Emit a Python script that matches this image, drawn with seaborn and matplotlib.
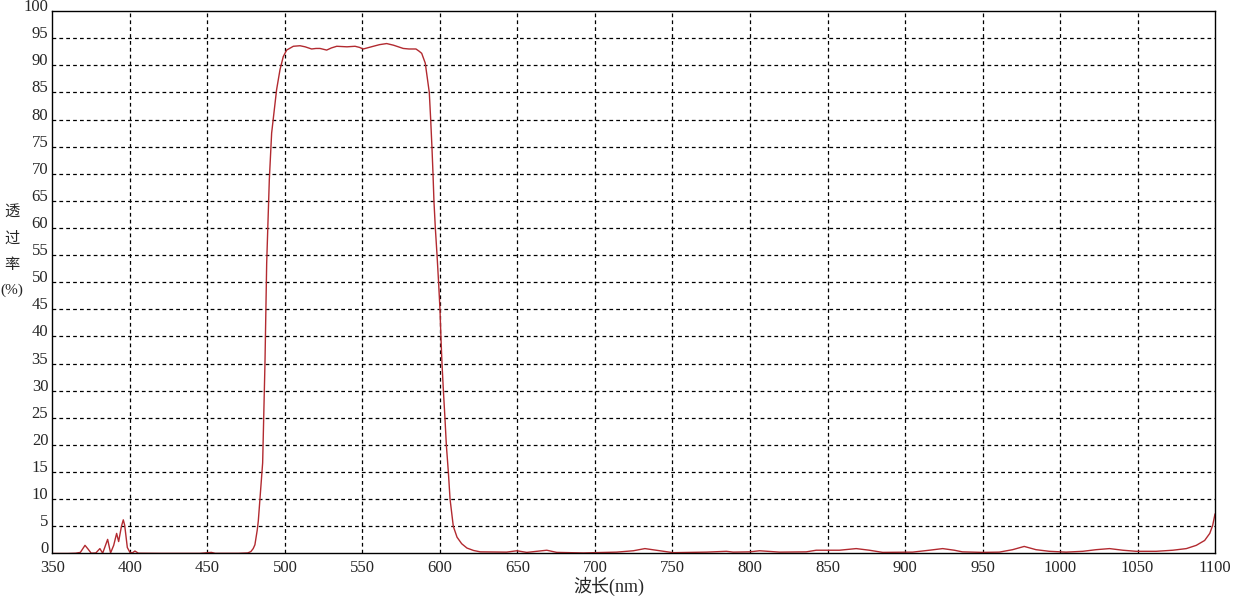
import matplotlib
matplotlib.use("Agg")
import matplotlib.pyplot as plt
import seaborn as sns
import pandas as pd

# wavelength (nm) and transmittance (%)
wavelength = [
    350, 360, 365, 368, 371, 373, 375, 378, 380.6, 382.4, 385.6, 387.5,
    389.5, 391.4, 392.7, 394.5, 395.7, 396.6, 398.3, 400, 401.5, 403.2,
    405.4, 420, 445, 452.5, 455, 470, 476, 478, 479.5, 480.6, 482.1,
    482.8, 484, 485.6, 487.1, 488.2, 489.9, 491.4, 492.5, 494.6, 496.8,
    498.9, 501.1, 505.4, 509.7, 513, 517.2, 520, 522.6, 526.9, 530,
    533.4, 540, 545.2, 548, 550.5, 553, 557, 561, 565.6, 570, 576.3,
    580, 584.5, 586.5, 588.2, 590.5, 593.1, 594, 594.8, 595.5, 596.1,
    597, 598.1, 599.1, 600, 600.6, 601.3, 602.2, 603.2, 604.1, 605.4,
    606.5, 608.6, 611, 614, 617.4, 621.7, 626, 643, 649.6, 656, 668.9,
    675.3, 692.5, 714, 724.7, 732.2, 741.8, 750.4, 771.9, 784.8, 789.1,
    799.8, 806.2, 819.1, 836.3, 842.7, 857.7, 868.5, 877, 885.6, 904.9,
    915.7, 924.3, 931.8, 937, 950, 960.8, 969.4, 976.9, 984.5, 993.1,
    1003.9, 1014.7, 1023.3, 1031.9, 1040.5, 1049.1, 1062, 1072.8, 1081.5,
    1087.9, 1093.3, 1096.6, 1098.5, 1100,
]
transmittance = [
    0, 0, 0.05, 0.2, 1.5, 0.8, 0.05, 0.1, 0.9, 0.05, 2.6, 0.1,
    1.5, 3.7, 2.2, 5.0, 6.2, 5.2, 1.1, 0.2, 0.1, 0.45,
    0.05, 0.02, 0.02, 0.2, 0.03, 0.03, 0.1, 0.35, 0.9, 1.6, 4.3,
    6.0, 10.5, 16.7, 35.1, 53.5, 68.9, 77.5, 80.3, 85.5, 89.2,
    91.6, 92.8, 93.5, 93.6, 93.4, 93.0, 93.1, 93.1, 92.8, 93.2,
    93.5, 93.4, 93.5, 93.3, 93.0, 93.2, 93.5, 93.8, 94.0, 93.7, 93.1,
    93.0, 93.0, 92.6, 92.2, 90.4, 85, 80, 75, 70, 65,
    60, 55, 50, 45, 40, 35, 30, 25, 20, 15,
    10, 5, 3.0, 1.8, 1.0, 0.55, 0.3, 0.25, 0.5, 0.2, 0.6,
    0.2, 0.1, 0.25, 0.5, 0.9, 0.5, 0.15, 0.25, 0.4, 0.25,
    0.3, 0.5, 0.25, 0.3, 0.6, 0.6, 0.9, 0.6, 0.2, 0.25,
    0.6, 0.9, 0.6, 0.3, 0.2, 0.25, 0.7, 1.3, 0.7, 0.4,
    0.25, 0.4, 0.7, 0.9, 0.6, 0.4, 0.4, 0.6, 0.9,
    1.5, 2.4, 3.7, 5.2, 7.3,
]
x_ticks = list(range(350, 1101, 50))
y_ticks = list(range(0, 101, 5))

df = pd.DataFrame({"wl": wavelength, "T": transmittance})

sns.set_style("white")
plt.rcParams["font.family"] = ["Liberation Serif", "Noto Sans CJK SC"]

fig = plt.figure(figsize=(12.43, 6.02), dpi=100)
ax = fig.add_axes([0.0422, 0.0806, 0.9353, 0.9011])

sns.lineplot(data=df, x="wl", y="T", ax=ax, color="#B22A30", linewidth=1.0,
             estimator=None, sort=False)

ax.set_xlim(350, 1100)
ax.set_ylim(0, 100)
ax.set_xticks(x_ticks)
ax.set_yticks(y_ticks)
ax.set_xticklabels([str(t) for t in x_ticks], fontsize=12)
ax.set_yticklabels([str(t) for t in y_ticks], fontsize=12)
# labels sit on their grid line, like the original software draws them
for lab in ax.get_yticklabels():
    lab.set_va("baseline")
ax.tick_params(axis="x", length=0, pad=5)
ax.tick_params(axis="y", length=0, pad=3)
ax.set_xlabel("")
ax.set_ylabel("")

# dashed grid, skipping the border positions
for xv in x_ticks[1:-1]:
    ax.axvline(xv, color="black", linestyle=(0, (3, 2.5)), linewidth=0.9, zorder=0)
for yv in y_ticks[1:-1]:
    ax.axhline(yv, color="black", linestyle=(0, (3, 2.5)), linewidth=0.9, zorder=0)

for sp in ax.spines.values():
    sp.set_visible(True)
    sp.set_color("black")
    sp.set_linewidth(1.0)

fig.text(609 / 1243, 1 - 586 / 602, "波长(nm)", ha="center", va="center", fontsize=13)
fig.text(12 / 1243, 1 - 251 / 602, "透\n过\n率\n(%)", ha="center", va="center",
         fontsize=11, linespacing=2.15)

fig.savefig("out.png", dpi=100)
